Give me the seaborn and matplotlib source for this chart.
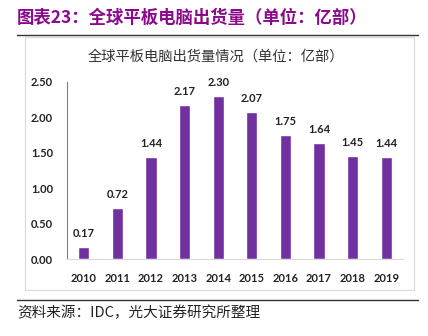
import matplotlib
matplotlib.use("Agg")
import matplotlib.pyplot as plt
import seaborn as sns
import pandas as pd
from matplotlib.patches import Rectangle
from matplotlib.lines import Line2D

years = ["2010", "2011", "2012", "2013", "2014", "2015", "2016", "2017", "2018", "2019"]
shipments = [0.17, 0.72, 1.44, 2.17, 2.30, 2.07, 1.75, 1.64, 1.45, 1.44]
yticks = [0.0, 0.5, 1.0, 1.5, 2.0, 2.5]

sns.set_theme(style="white")
plt.rcParams['font.family'] = ['Noto Sans CJK SC', 'DejaVu Sans']

W, H = 428, 336
fig = plt.figure(figsize=(W / 100, H / 100), dpi=100)

def fx(px):
    return px / W

def fy(py):
    return 1 - py / H

# outer decorations
fig.text(fx(17), fy(18), "图表23：全球平板电脑出货量（单位：亿部）", color="#8B0A8B",
         fontsize=12.5, fontweight="bold", ha="left", va="center")
fig.add_artist(Line2D([fx(17), fx(418)], [fy(35), fy(35)], color="#333333", lw=1.0))
fig.add_artist(Rectangle((fx(25), fy(290)), fx(414) - fx(25), fy(37) - fy(290),
                         fill=False, edgecolor="#D9D9D9", lw=0.8, transform=fig.transFigure))
fig.add_artist(Line2D([fx(17), fx(418)], [fy(300), fy(300)], color="#333333", lw=1.0))
fig.text(fx(17), fy(313), "资料来源：IDC，光大证券研究所整理", color="#222222",
         fontsize=10.5, ha="left", va="center")

fig.text(fx(216), fy(57), "全球平板电脑出货量情况（单位：亿部）", color="#333333",
         fontsize=10.3, ha="center", va="center")

ax = fig.add_axes([fx(67), fy(259), fx(403) - fx(67), fy(82) - fy(259)])
df = pd.DataFrame({"year": years, "value": shipments})
sns.barplot(data=df, x="year", y="value", color="#7030A0", saturation=1, width=0.33, ax=ax)

ax.set_ylim(0, 2.5)
ax.set_xlim(-0.5, len(years) - 0.5)
ax.set_yticks(yticks)
ax.set_yticklabels([f"{v:.2f}" for v in yticks])
ax.set_xlabel("")
ax.set_ylabel("")
for sp in ["top", "right"]:
    ax.spines[sp].set_visible(False)
ax.spines["left"].set_color("#7F7F7F")
ax.spines["left"].set_linewidth(0.8)
ax.spines["bottom"].set_color("#D9D9D9")
ax.spines["bottom"].set_linewidth(0.8)
ax.tick_params(axis="both", length=0, labelsize=8, colors="#222222")
ax.tick_params(axis="y", pad=10)
ax.tick_params(axis="x", pad=10)
for lab in ax.get_xticklabels() + ax.get_yticklabels():
    lab.set_fontweight("bold")
    lab.set_family(["Lato", "DejaVu Sans"])
ax.grid(False)

for i, v in enumerate(shipments):
    ax.annotate(f"{v:.2f}", (i, v), xytext=(0, 6), textcoords="offset points",
                ha="center", va="bottom", fontsize=8, fontweight="bold",
                family=["Lato", "DejaVu Sans"], color="#222222")

fig.savefig("out.png", dpi=100)
